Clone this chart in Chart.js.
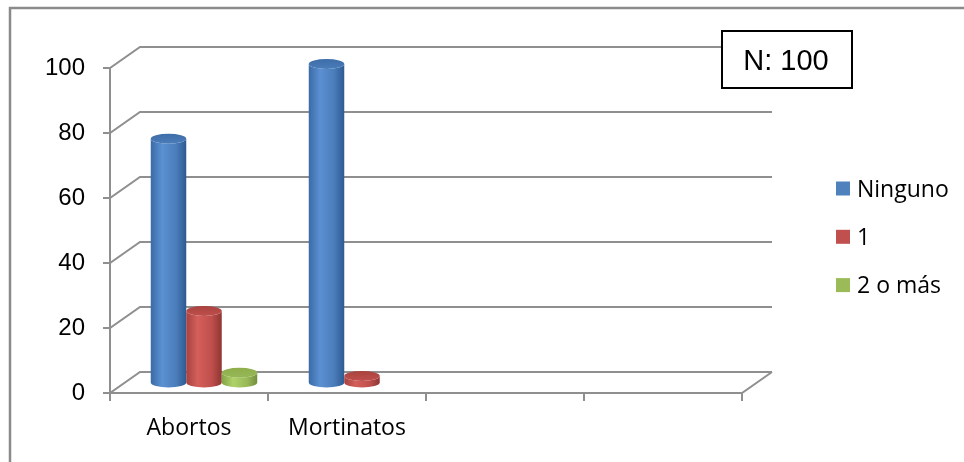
<!DOCTYPE html>
<html><head><meta charset="utf-8">
<script src="https://cdn.jsdelivr.net/npm/chart.js@4/dist/chart.umd.min.js"></script>
<style>html,body{margin:0;padding:0;background:#fff;overflow:hidden}#wrap{position:relative;width:964px;height:462px}</style>
</head><body><div id="wrap"><canvas id="c" width="964" height="462"></canvas></div>
<script>
const categories = ['Abortos', 'Mortinatos', '', ''];
const seriesNames = ['Ninguno', '1', '2 o más'];
const ninguno = [75, 98, null, null];
const uno = [22, 2, null, null];
const dosOMas = [3, 0, null, null];
const yMin = 0, yMax = 100, yStep = 20;
const noteText = 'N: 100';

const palette = [
  {base:'#4F81BD', stops:['#3A6BA6','#5B90D2','#4A7DBA','#2E5A92'], top:'#3E6DA8'},
  {base:'#C0504D', stops:['#A6423F','#D45F5B','#BF4F4C','#8E3633'], top:'#A9433F'},
  {base:'#9BBB59', stops:['#84A347','#AFD268','#98B857','#748F3E'], top:'#8DAE4B'}
];

const DX = 30, DY = -21;          // depth of the 3D box
const BX = 15, BY = -10.5;        // bars sit mid-depth

function cylinder(ctx, cx, top, base, w, pal) {
  const rx = w / 2, ry = 5;
  const g = ctx.createLinearGradient(cx - rx, 0, cx + rx, 0);
  g.addColorStop(0, pal.stops[0]);
  g.addColorStop(0.32, pal.stops[1]);
  g.addColorStop(0.72, pal.stops[2]);
  g.addColorStop(1, pal.stops[3]);
  ctx.beginPath();
  ctx.moveTo(cx - rx, top);
  ctx.lineTo(cx - rx, base);
  ctx.ellipse(cx, base, rx, ry, 0, Math.PI, 0, true);
  ctx.lineTo(cx + rx, top);
  ctx.ellipse(cx, top, rx, ry, 0, 0, Math.PI, false);
  ctx.closePath();
  ctx.fillStyle = g;
  ctx.fill();
  const tg = ctx.createLinearGradient(0, top - ry, 0, top + ry);
  tg.addColorStop(0, pal.top);
  tg.addColorStop(1, pal.stops[2]);
  ctx.beginPath();
  ctx.ellipse(cx, top, rx, ry, 0, 0, Math.PI * 2);
  ctx.fillStyle = tg;
  ctx.fill();
}

const threeD = {
  id: 'threeD',
  beforeDraw(chart) {
    const ctx = chart.ctx, ys = chart.scales.y, xs = chart.scales.x, ca = chart.chartArea;
    ctx.save();
    ctx.fillStyle = '#fff';
    ctx.fillRect(0, 0, chart.width, chart.height);
    ctx.strokeStyle = '#8a8a8a';
    ctx.lineWidth = 2.5;
    ctx.beginPath();
    ctx.moveTo(10, chart.height + 5); ctx.lineTo(10, 8); ctx.lineTo(chart.width + 5, 8);
    ctx.stroke();
    ctx.strokeStyle = '#8f8f8f';
    ctx.lineWidth = 2;
    ys.ticks.forEach(t => {
      const py = ys.getPixelForValue(t.value);
      ctx.beginPath();
      ctx.moveTo(ca.left - 7, py);
      ctx.lineTo(ca.left, py);
      ctx.lineTo(ca.left + DX, py + DY);
      ctx.lineTo(ca.right + DX, py + DY);
      ctx.stroke();
    });
    ctx.beginPath();
    ctx.moveTo(ca.left, ca.top);
    ctx.lineTo(ca.left, ca.bottom);
    ctx.lineTo(ca.right, ca.bottom);
    ctx.lineTo(ca.right + DX, ca.bottom + DY);
    ctx.stroke();
    for (let i = 0; i <= categories.length; i++) {
      const px = xs.getPixelForValue(i - 0.5);
      ctx.beginPath();
      ctx.moveTo(px, ca.bottom);
      ctx.lineTo(px, ca.bottom + 8);
      ctx.stroke();
    }
    ctx.restore();
  },
  beforeDatasetsDraw(chart) {
    const ctx = chart.ctx;
    ctx.save();
    for (let i = 0; i < categories.length; i++) {
      chart.data.datasets.forEach((ds, d) => {
        const el = chart.getDatasetMeta(d).data[i];
        const v = ds.data[i];
        if (!el || v === null || v === undefined || v === 0) return;
        cylinder(ctx, el.x + BX, el.y + BY, el.base + BY, el.width, palette[d]);
      });
    }
    ctx.restore();
    return false;
  },
  afterDraw(chart) {
    const ctx = chart.ctx;
    ctx.save();
    // legend
    ctx.font = '23px "Open Sans"';
    ctx.textBaseline = 'alphabetic';
    ctx.textAlign = 'left';
    chart.data.datasets.forEach((ds, d) => {
      const base = 196.5 + d * 48.3;
      ctx.fillStyle = ds.backgroundColor;
      ctx.fillRect(836, base - 15, 14, 14);
      ctx.fillStyle = '#000';
      ctx.fillText(ds.label, 857, base);
    });
    // note box
    ctx.fillStyle = '#fff';
    ctx.fillRect(722, 31, 130, 57);
    ctx.strokeStyle = '#000';
    ctx.lineWidth = 2;
    ctx.strokeRect(722, 31, 130, 57);
    ctx.fillStyle = '#000';
    ctx.font = '29px "Liberation Sans", Arial';
    ctx.textAlign = 'center';
    ctx.textBaseline = 'alphabetic';
    ctx.fillText(noteText, 786, 70);
    ctx.restore();
  }
};

new Chart(document.getElementById('c'), {
  type: 'bar',
  data: {
    labels: categories,
    datasets: [
      {label: seriesNames[0], data: ninguno, backgroundColor: palette[0].base},
      {label: seriesNames[1], data: uno, backgroundColor: palette[1].base},
      {label: seriesNames[2], data: dosOMas, backgroundColor: palette[2].base}
    ]
  },
  options: {
    responsive: false,
    animation: false,
    devicePixelRatio: 1,
    layout: {padding: {top: 68, right: 222, bottom: 0, left: 0}},
    datasets: {bar: {categoryPercentage: 0.674, barPercentage: 1.0}},
    plugins: {legend: {display: false}, tooltip: {enabled: false}, title: {display: false}},
    scales: {
      x: {
        grid: {display: false, drawTicks: false},
        border: {display: false},
        ticks: {font: {family: '"Open Sans"', size: 23}, color: '#000', padding: 22, maxRotation: 0, autoSkip: false},
        afterFit: s => { s.height = 69; }
      },
      y: {
        min: yMin, max: yMax,
        grid: {display: false, drawTicks: false},
        border: {display: false},
        ticks: {stepSize: yStep, font: {family: '"Liberation Sans", Arial', size: 24}, color: '#000', padding: 25},
        afterFit: s => { s.width = 110; }
      }
    }
  },
  plugins: [threeD]
});
</script></body></html>
